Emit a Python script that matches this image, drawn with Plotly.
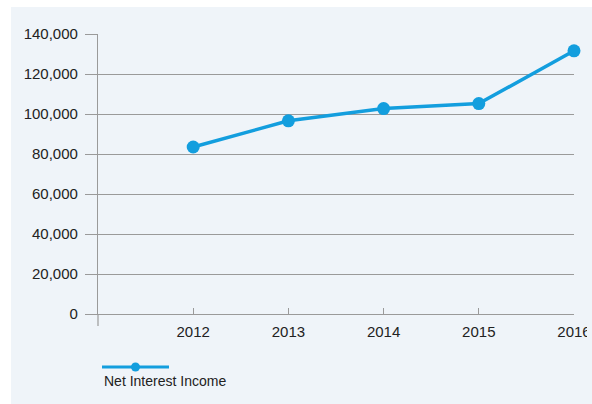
import plotly.graph_objects as go

years = [2012, 2013, 2014, 2015, 2016]
net_interest_income = [83500, 96600, 102700, 105200, 131600]
series_name = "Net Interest Income"
y_ticks = [0, 20000, 40000, 60000, 80000, 100000, 120000, 140000]

BLUE = "#139ede"
PANEL = "#eff4f9"
GRID = "#9a9a9a"
TEXT = "#222222"
FONT = "Liberation Sans, Arial, sans-serif"

W, H = 592, 404
L, R, T, B = 98, 18, 34, 90
PW, PH = W - L - R, H - T - B


def px_x(p):
    return (p - L) / PW


def px_y(p):
    return (H - B - p) / PH


fig = go.Figure()
fig.add_trace(go.Scatter(
    x=years, y=net_interest_income, mode="lines+markers", name=series_name,
    line=dict(color=BLUE, width=3.5),
    marker=dict(color=BLUE, size=13),
    showlegend=False, cliponaxis=False,
))

shapes = [
    # panel background
    dict(type="rect", xref="paper", yref="paper", x0=px_x(11), x1=px_x(W + 2), y0=px_y(H + 2), y1=px_y(7),
         fillcolor=PANEL, line=dict(width=0), layer="below"),
    # y-axis line extension below zero
    dict(type="line", xref="paper", yref="paper", x0=0, x1=0, y0=0, y1=px_y(326),
         line=dict(color=GRID, width=1.2)),
    # legend line
    dict(type="line", xref="paper", yref="paper", x0=px_x(102), x1=px_x(169), y0=px_y(367), y1=px_y(367),
         line=dict(color=BLUE, width=3)),
    # legend marker
    dict(type="circle", xref="paper", yref="paper", xsizemode="pixel", ysizemode="pixel",
         xanchor=px_x(135.5), yanchor=px_y(367), x0=-4.5, x1=4.5, y0=-4.5, y1=4.5,
         fillcolor=BLUE, line=dict(width=0)),
    # clip of last tick label at right edge
    dict(type="rect", xref="paper", yref="paper", x0=px_x(587), x1=px_x(W + 2), y0=px_y(348), y1=px_y(320),
         fillcolor=PANEL, line=dict(width=0), layer="above"),
]

fig.update_layout(
    width=W, height=H, autosize=False,
    margin=dict(l=L, r=R, t=T, b=B, pad=0, autoexpand=False),
    paper_bgcolor="white", plot_bgcolor="rgba(0,0,0,0)",
    font=dict(family=FONT, size=15, color=TEXT),
    shapes=shapes,
    annotations=[dict(
        text=series_name, xref="paper", yref="paper", x=px_x(102), y=px_y(381),
        xanchor="left", yanchor="middle", showarrow=False,
        font=dict(family=FONT, size=14, color=TEXT),
    )],
    xaxis=dict(
        range=[2011, 2016], tickvals=years, ticktext=[str(y) for y in years],
        showgrid=False, zeroline=False, showline=True, linecolor=GRID, linewidth=1.2,
        ticks="inside", ticklen=6, tickcolor=GRID, tickwidth=1.2,
        tickfont=dict(size=15, color=TEXT), ticklabelstandoff=4, automargin=False,
    ),
    yaxis=dict(
        range=[0, 140000], tickvals=y_ticks, tickformat=",d",
        showgrid=True, gridcolor=GRID, gridwidth=1.2, zeroline=False,
        showline=True, linecolor=GRID, linewidth=1.2,
        ticks="outside", ticklen=12, tickcolor=GRID, tickwidth=1.2,
        tickfont=dict(size=15, color=TEXT), ticklabelstandoff=4, automargin=False,
    ),
)

fig.write_html(
    "out.html",
    config={"responsive": False, "displayModeBar": False},
    post_script="document.body.style.margin='0';document.body.style.overflow='hidden';",
)
